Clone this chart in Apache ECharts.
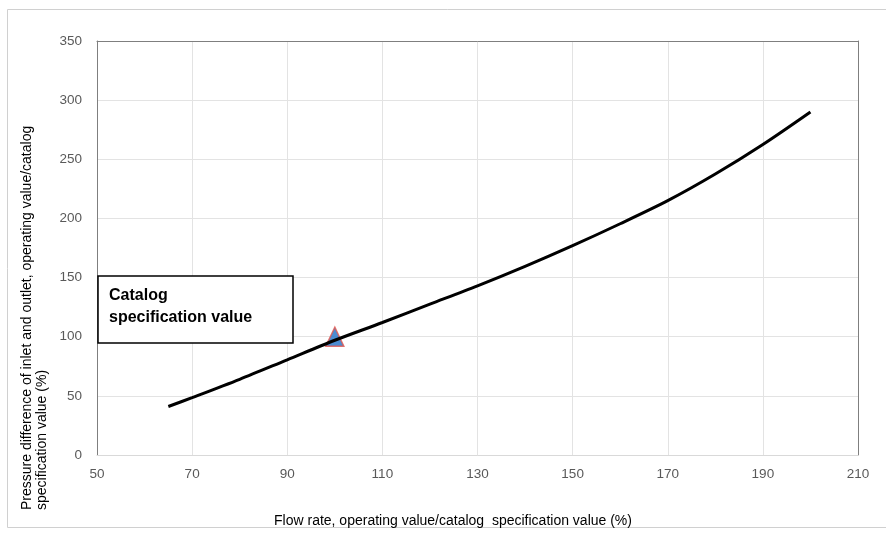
<!DOCTYPE html>
<html>
<head>
<meta charset="utf-8">
<script src="https://cdn.jsdelivr.net/npm/echarts@6/dist/echarts.min.js"></script>
<style>
  html, body { margin: 0; padding: 0; background: #fff; }
  #chart { width: 886px; height: 533px; }
</style>
</head>
<body>
<div id="chart"></div>
<script>
// Flow rate (% of catalog value) and resulting pressure difference (% of catalog value)
var flowRate = [65, 70, 80, 90, 100, 110, 120, 130, 140, 150, 160, 170, 180, 190, 200];
var pressureDiff = [41, 48.5, 64, 80.5, 97, 112, 127.5, 143, 159.5, 177, 195.5, 215, 237.5, 262.5, 290];

// Catalog specification point
var specPoint = [100, 100];

var xTicks = { min: 50, max: 210, interval: 20 };
var yTicks = { min: 0, max: 350, interval: 50 };

var font = '"Liberation Sans", Arial, sans-serif';
var frameColor = '#7f7f7f';

var chart = echarts.init(document.getElementById('chart'), null, { renderer: 'canvas' });

var curve = flowRate.map(function (x, i) { return [x, pressureDiff[i]]; });

// plain frame axes (top / right) without labels
function frameAxis(pos) {
  return {
    type: 'value', position: pos,
    min: pos === 'top' ? xTicks.min : yTicks.min,
    max: pos === 'top' ? xTicks.max : yTicks.max,
    axisLine: { show: true, onZero: false, lineStyle: { color: frameColor, width: 1 } },
    axisTick: { show: false }, axisLabel: { show: false }, splitLine: { show: false }
  };
}

chart.setOption({
  animation: false,
  backgroundColor: '#ffffff',
  grid: { left: 97, right: 28, top: 41, bottom: 78, show: false },
  xAxis: [
    {
      type: 'value', position: 'bottom',
      min: xTicks.min, max: xTicks.max, interval: xTicks.interval,
      axisLine: { show: true, onZero: false, lineStyle: { color: '#d9d9d9', width: 1 } },
      axisTick: { show: false },
      axisLabel: { color: '#595959', fontSize: 13.5, fontFamily: font, margin: 12 },
      splitLine: { show: true, lineStyle: { color: '#e3e3e3', width: 1 } }
    },
    frameAxis('top')
  ],
  yAxis: [
    {
      type: 'value', position: 'left',
      min: yTicks.min, max: yTicks.max, interval: yTicks.interval,
      axisLine: { show: true, onZero: false, lineStyle: { color: frameColor, width: 1 } },
      axisTick: { show: false },
      axisLabel: { color: '#595959', fontSize: 13.5, fontFamily: font, margin: 15 },
      splitLine: { show: true, lineStyle: { color: '#e3e3e3', width: 1 } }
    },
    frameAxis('right')
  ],
  series: [
    {
      type: 'scatter',
      data: [specPoint],
      symbol: 'triangle',
      symbolSize: [18, 19],
      itemStyle: { color: '#1f6fc5', borderColor: '#e0544c', borderWidth: 1.5 },
      z: 2
    },
    {
      type: 'line',
      data: curve,
      smooth: 0.3,
      showSymbol: false,
      lineStyle: { color: '#000000', width: 3 },
      z: 3
    }
  ],
  graphic: [
    {
      type: 'rect',
      shape: { x: 7.5, y: 9.5, width: 900, height: 518 },
      style: { fill: 'none', stroke: '#d0d0d0', lineWidth: 1 },
      silent: true, z: -10
    },
    {
      type: 'rect',
      shape: { x: 98, y: 276, width: 195, height: 67 },
      style: { fill: '#ffffff', stroke: '#000000', lineWidth: 1.5 },
      z: 10
    },
    {
      type: 'text',
      x: 109, y: 285,
      style: {
        text: 'Catalog\nspecification value',
        font: 'bold 16px ' + font,
        fill: '#000000',
        lineHeight: 22,
        textVerticalAlign: 'top'
      },
      z: 11
    },
    {
      type: 'text',
      x: 453, y: 521,
      style: {
        text: 'Flow rate, operating value/catalog  specification value (%)',
        font: '14px ' + font,
        fill: '#000000',
        textAlign: 'center',
        textVerticalAlign: 'middle'
      },
      z: 11
    },
    {
      type: 'text',
      x: 35, y: 510,
      rotation: Math.PI / 2,
      style: {
        text: 'Pressure difference of inlet and outlet, operating value/catalog\nspecification value (%)',
        font: '14px ' + font,
        fill: '#000000',
        lineHeight: 15,
        textAlign: 'left',
        textVerticalAlign: 'middle'
      },
      z: 11
    }
  ]
});
</script>
</body>
</html>
